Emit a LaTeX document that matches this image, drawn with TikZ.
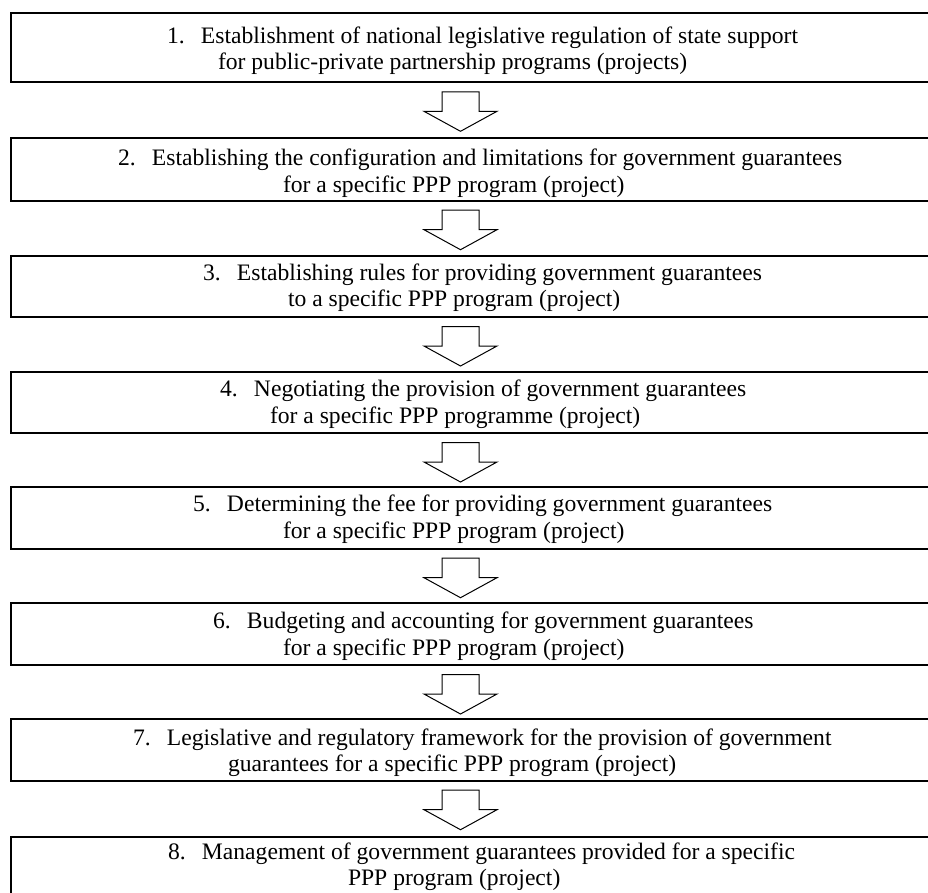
\documentclass[tikz,border=0pt]{standalone}
\usepackage{fontspec}
\setmainfont{Liberation Serif}
\usetikzlibrary{calc}
\begin{document}
\begin{tikzpicture}[x=1pt,y=-1pt,
  box/.style={draw, line width=1.7pt, rectangle, minimum width=939pt, inner sep=0pt, outer sep=0pt, anchor=north west},
  txt/.style={inner sep=0pt, outer sep=0pt, anchor=base west, font=\fontsize{23.6}{28}\selectfont},
  arrowline/.style={draw, line width=1pt, fill=white, line join=miter},
  downarrow/.pic={\path[arrowline] (-18.5,0) -- (18.5,0) -- (18.5,19.5) -- (36.5,19.5) -- (0,39.5) -- (-36.5,19.5) -- (-18.5,19.5) -- cycle;}
]
\path[use as bounding box] (0,0) rectangle (928,892);
\clip (0,0) rectangle (928,892);
\coordinate (ax) at (460.5,0);
\newcommand\numb[1]{\makebox[34pt][l]{#1}}
% boxes
\node[box, minimum height=69.6pt] (b1) at (11,12.7) {};
\node[box, minimum height=62.7pt] (b2) at (11,138) {};
\node[box, minimum height=61.3pt] (b3) at (11,255.7) {};
\node[box, minimum height=61pt]   (b4) at (11,372) {};
\node[box, minimum height=61.7pt] (b5) at (11,487) {};
\node[box, minimum height=62.3pt] (b6) at (11,602.7) {};
\node[box, minimum height=61.4pt] (b7) at (11,719.3) {};
\node[box, minimum height=62pt]   (b8) at (11,836.7) {};
% texts
\node[txt] (t1a) at (167,43) {\numb{1.}Establishment of national legislative regulation of state support};
\node[txt] (t1b) at (218,69) {for public-private partnership programs (projects)};
\node[txt] (t2a) at (118,165) {\numb{2.}Establishing the configuration and limitations for government guarantees};
\node[txt] (t2b) at (283,192) {for a specific PPP program (project)};
\node[txt] (t3a) at (203,280) {\numb{3.}Establishing rules for providing government guarantees};
\node[txt] (t3b) at (288,306.7) {to a specific PPP program (project)};
\node[txt] (t4a) at (220,396.7) {\numb{4.}Negotiating the provision of government guarantees};
\node[txt] (t4b) at (270,423) {for a specific PPP programme (project)};
\node[txt] (t5a) at (193,511.7) {\numb{5.}Determining the fee for providing government guarantees};
\node[txt] (t5b) at (283,538) {for a specific PPP program (project)};
\node[txt] (t6a) at (213,628.3) {\numb{6.}Budgeting and accounting for government guarantees};
\node[txt] (t6b) at (283,655.7) {for a specific PPP program (project)};
\node[txt] (t7a) at (133,745) {\numb{7.}Legislative and regulatory framework for the provision of government};
\node[txt] (t7b) at (228,771.7) {guarantees for a specific PPP program (project)};
\node[txt] (t8a) at (168,859) {\numb{8.}Management of government guarantees provided for a specific};
\node[txt] (t8b) at (348,885) {PPP program (project)};
% arrows
\foreach \i in {1,...,7} {
  \path ($(b\i.south -| ax)+(0,9.5)$) pic {downarrow};
}
\end{tikzpicture}
\end{document}
